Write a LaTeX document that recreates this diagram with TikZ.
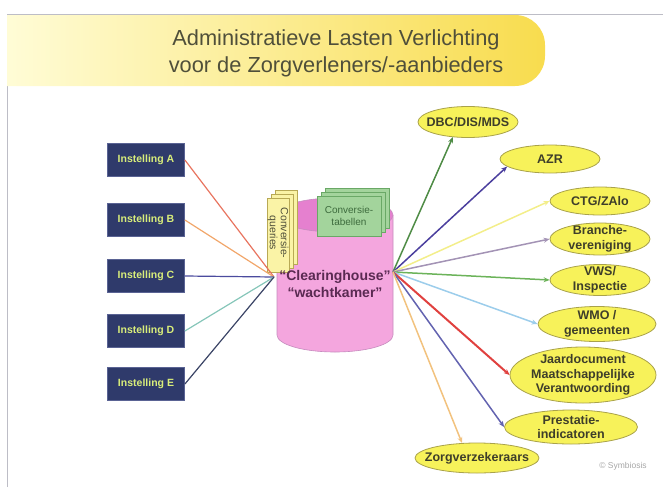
\documentclass[tikz,border=0pt]{standalone}
\usepackage{fontspec}
\setmainfont{Liberation Sans}
\usetikzlibrary{shapes.geometric,arrows.meta}

\definecolor{framegray}{HTML}{BDBDC6}
\definecolor{bannerL}{HTML}{FFFCD6}
\definecolor{bannerR}{HTML}{F8DC4E}
\definecolor{titleink}{HTML}{4F4F3A}
\definecolor{instfill}{HTML}{2F3A6B}
\definecolor{instedge}{HTML}{5A6394}
\definecolor{insttext}{HTML}{D9EE7A}
\definecolor{tgtfill}{HTML}{F7F25A}
\definecolor{tgtedge}{HTML}{A9A24A}
\definecolor{tgtink}{HTML}{3E3E2A}
\definecolor{cylbody}{HTML}{F4A6DE}
\definecolor{cyltop}{HTML}{E580CF}
\definecolor{cyledge}{HTML}{C68BBE}
\definecolor{cylink}{HTML}{5A2A52}
\definecolor{qfill}{HTML}{FAF3A6}
\definecolor{qedge}{HTML}{B8A955}
\definecolor{tfill}{HTML}{A3D49C}
\definecolor{tedge}{HTML}{6AA866}
\definecolor{tink}{HTML}{3D6B3D}
% feeds
\definecolor{lineA}{HTML}{E8745F}
\definecolor{lineB}{HTML}{F1A66A}
\definecolor{lineC}{HTML}{4B4B9E}
\definecolor{lineD}{HTML}{86C6B9}
\definecolor{lineE}{HTML}{3B4466}
% deliveries
\definecolor{toDBC}{HTML}{4F8C46}
\definecolor{toAZR}{HTML}{4B3F9E}
\definecolor{toCTG}{HTML}{F3EE8A}
\definecolor{toBRA}{HTML}{A393B5}
\definecolor{toVWS}{HTML}{6CB35A}
\definecolor{toWMO}{HTML}{9CCDEB}
\definecolor{toJAAR}{HTML}{E0413F}
\definecolor{toPREST}{HTML}{6363B0}
\definecolor{toZORG}{HTML}{F2C27E}

\begin{document}
\begin{tikzpicture}[x=1pt, y=-1pt,
	inst/.style={draw=instedge, fill=instfill, text=insttext, line width=0.8pt,
		minimum width=77pt, minimum height=33pt, inner sep=0pt,
		font=\bfseries\fontsize{10.5}{12}\selectfont},
	tgt/.style 2 args={ellipse, draw=tgtedge, fill=tgtfill, line width=0.8pt,
		minimum width=#1, minimum height=#2, inner sep=0pt},
	tgttext/.style={text=tgtink, align=center, inner sep=0pt,
		font=\bfseries\fontsize{12.5}{14.5}\selectfont},
	feed/.style={line width=1.2pt},
	sendline/.style={line width=1.5pt, -{Stealth[length=6pt, width=5pt]}}
	]
	\useasboundingbox (0,0) rectangle (664,488);

	% frame, banner
	\draw[framegray, line width=0.8pt] (7,487) -- (7,14) -- (663,14);
	\shade[left color=bannerL, right color=bannerR]
		(7,15) -- (515,15) arc[start angle=-90, end angle=0, radius=30]
		-- (545,56) arc[start angle=0, end angle=90, radius=30] -- (7,86) -- cycle;
	\node[text=titleink, align=center, font=\fontsize{21.8}{27}\selectfont] (title) at (336,53)
		{Administratieve Lasten Verlichting\\voor de Zorgverleners/-aanbieders};

	% clearinghouse cylinder
	\fill[cylbody] (277,215) -- (277,335) arc[start angle=180, end angle=0, x radius=58, y radius=17] -- (393,215) -- cycle;
	\draw[cyledge, line width=0.6pt] (277,215) -- (277,335) arc[start angle=180, end angle=0, x radius=58, y radius=17] -- (393,215);
	\draw[cyledge, fill=cyltop, line width=0.6pt] (335,215) ellipse [x radius=58, y radius=17];

	% conversie sheets
	\foreach \d in {8,4,0}
		\draw[tedge, fill=tfill, line width=0.6pt] (317+\d,196-\d) rectangle (381+\d,236-\d);
	\node[text=tink, align=center, inner sep=0pt, font=\fontsize{10}{11.5}\selectfont] (tabellen) at (349,216) {Conversie-\\tabellen};
	\foreach \d in {8,4,0}
		\draw[qedge, fill=qfill, line width=0.6pt] (267+\d,198-\d) rectangle (289+\d,272-\d);
	\node[rotate=-90, text=titleink, align=center, inner sep=0pt, font=\fontsize{10.5}{11}\selectfont] (queries) at (278,233) {Conversie-\\queries};

	\node[text=cylink, align=center, inner sep=0pt, font=\bfseries\fontsize{14}{17}\selectfont] (ch) at (335,284)
		{“Clearinghouse”\\“wachtkamer”};

	\coordinate (lhub) at (274,277);
	\coordinate (rhub) at (393,272);

	% instellingen
	\node[inst] (instA) at (146,160) {Instelling A};
	\node[inst] (instB) at (146,220) {Instelling B};
	\node[inst] (instC) at (146,276) {Instelling C};
	\node[inst] (instD) at (146,331) {Instelling D};
	\node[inst] (instE) at (146,384) {Instelling E};

	\draw[feed, lineA] (instA.east) -- (lhub);
	\draw[feed, lineB] (instB.east) -- (lhub);
	\draw[feed, lineC] (instC.east) -- (lhub);
	\draw[feed, lineD] (instD.east) -- (lhub);
	\draw[feed, lineE] (instE.east) -- (lhub);

	% afnemers
	\node[tgt={100pt}{31pt}] (dbc) at (468,122) {};
	\node[tgttext] (dbcT) at (dbc) {DBC/DIS/MDS};
	\node[tgt={100pt}{28pt}] (azr) at (550,159) {};
	\node[tgttext] (azrT) at (azr) {AZR};
	\node[tgt={100pt}{28pt}] (ctg) at (600,201) {};
	\node[tgttext] (ctgT) at (ctg) {CTG/ZAlo};
	\node[tgt={100pt}{32pt}] (bra) at (600,239) {};
	\node[tgttext] (braT) at (bra) {Branche-\\vereniging};
	\node[tgt={100pt}{31pt}] (vws) at (600,280) {};
	\node[tgttext] (vwsT) at (vws) {VWS/\\Inspectie};
	\node[tgt={118pt}{35pt}] (wmo) at (597,324) {};
	\node[tgttext] (wmoT) at (wmo) {WMO /\\gemeenten};
	\node[tgt={146pt}{56pt}] (jaar) at (583,375) {};
	\node[tgttext] (jaarT) at (jaar) {Jaardocument\\Maatschappelijke\\Verantwoording};
	\node[tgt={133pt}{34pt}] (prest) at (571,427) {};
	\node[tgttext] (prestT) at (prest) {Prestatie-\\indicatoren};
	\node[tgt={124pt}{30pt}] (zorg) at (477,458) {};
	\node[tgttext] (zorgT) at (zorg) {Zorgverzekeraars};

	\draw[sendline, toDBC] (rhub) -- (dbc.225);
	\draw[sendline, toAZR] (rhub) -- (azr.190);
	\draw[sendline, toCTG] (rhub) -- (ctg.west);
	\draw[sendline, toBRA] (rhub) -- (bra.west);
	\draw[sendline, toVWS] (rhub) -- (vws.west);
	\draw[sendline, toWMO] (rhub) -- (wmo.west);
	\draw[sendline, toJAAR, line width=2pt] (rhub) -- (jaar.west);
	\draw[sendline, toPREST] (rhub) -- (prest.west);
	\draw[sendline, toZORG] (rhub) -- (zorg.135);

	\node[text=black!35, font=\fontsize{8.5}{10}\selectfont] (copy) at (623,466) {© Symbiosis};
\end{tikzpicture}
\end{document}
